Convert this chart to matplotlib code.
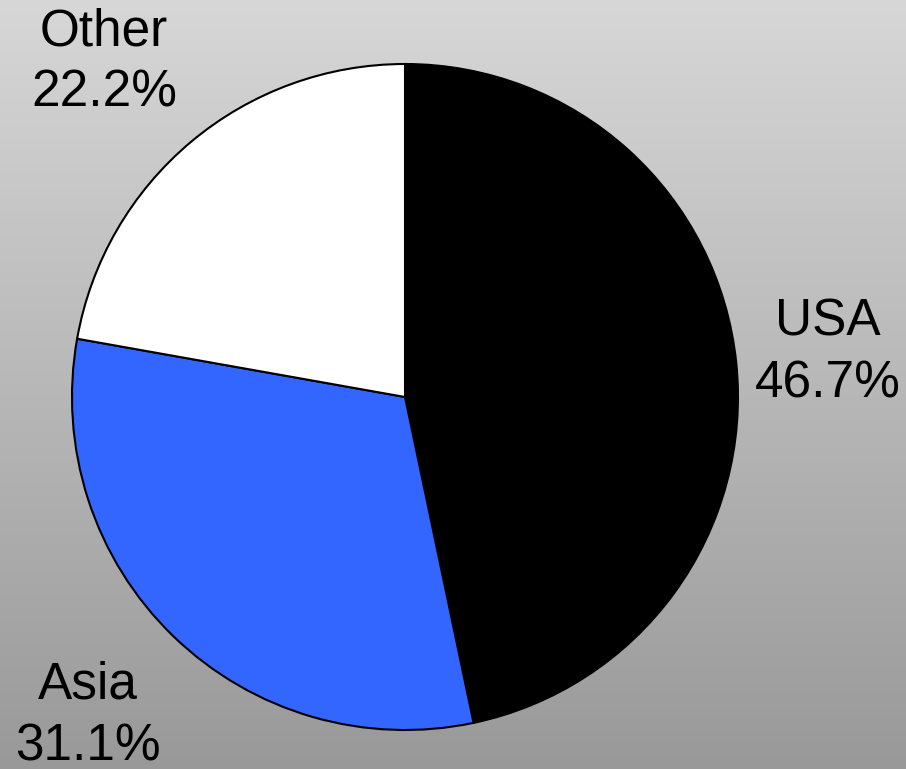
import numpy as np
import matplotlib.pyplot as plt

plt.rcParams['font.family'] = ['Liberation Sans', 'DejaVu Sans']

# data
regions = ["USA", "Asia", "Other"]
shares = [46.7, 31.1, 22.2]
colors = ["#000000", "#3366ff", "#ffffff"]
label_dist = [1.277, 1.35, 1.352]
label_shift = [0.0, -0.7, 2.0]   # degrees

W, H = 906, 769
fig = plt.figure(figsize=(W / 100, H / 100), dpi=100)

# gradient background
bg = fig.add_axes([0, 0, 1, 1])
grad = np.linspace(0, 1, 256).reshape(-1, 1)
top = np.array([0.843, 0.843, 0.843])
bot = np.array([0.60, 0.60, 0.60])
img = top + (bot - top) * grad[:, :, None]
bg.imshow(img, aspect="auto", extent=[0, 1, 0, 1])
bg.axis("off")

ax = fig.add_axes([0, 0, 1, 1])
ax.set_aspect("equal")
ax.axis("off")

cx, cy, r = 405, H - 397, 333
wedges, _ = ax.pie(shares, colors=colors, startangle=90, counterclock=False,
                   center=(cx, cy), radius=r,
                   wedgeprops=dict(edgecolor="black", linewidth=1.5))
ax.set_xlim(0, W)
ax.set_ylim(0, H)

for w, name, val, d, s in zip(wedges, regions, shares, label_dist, label_shift):
    ang = np.deg2rad((w.theta1 + w.theta2) / 2 + s)
    x = cx + r * d * np.cos(ang)
    y = cy + r * d * np.sin(ang)
    ax.text(x, y, f"{name}\n{val:.1f}%", ha="center", va="center",
            fontsize=37, linespacing=1.32, color="black")

fig.savefig("out.png", dpi=100)
